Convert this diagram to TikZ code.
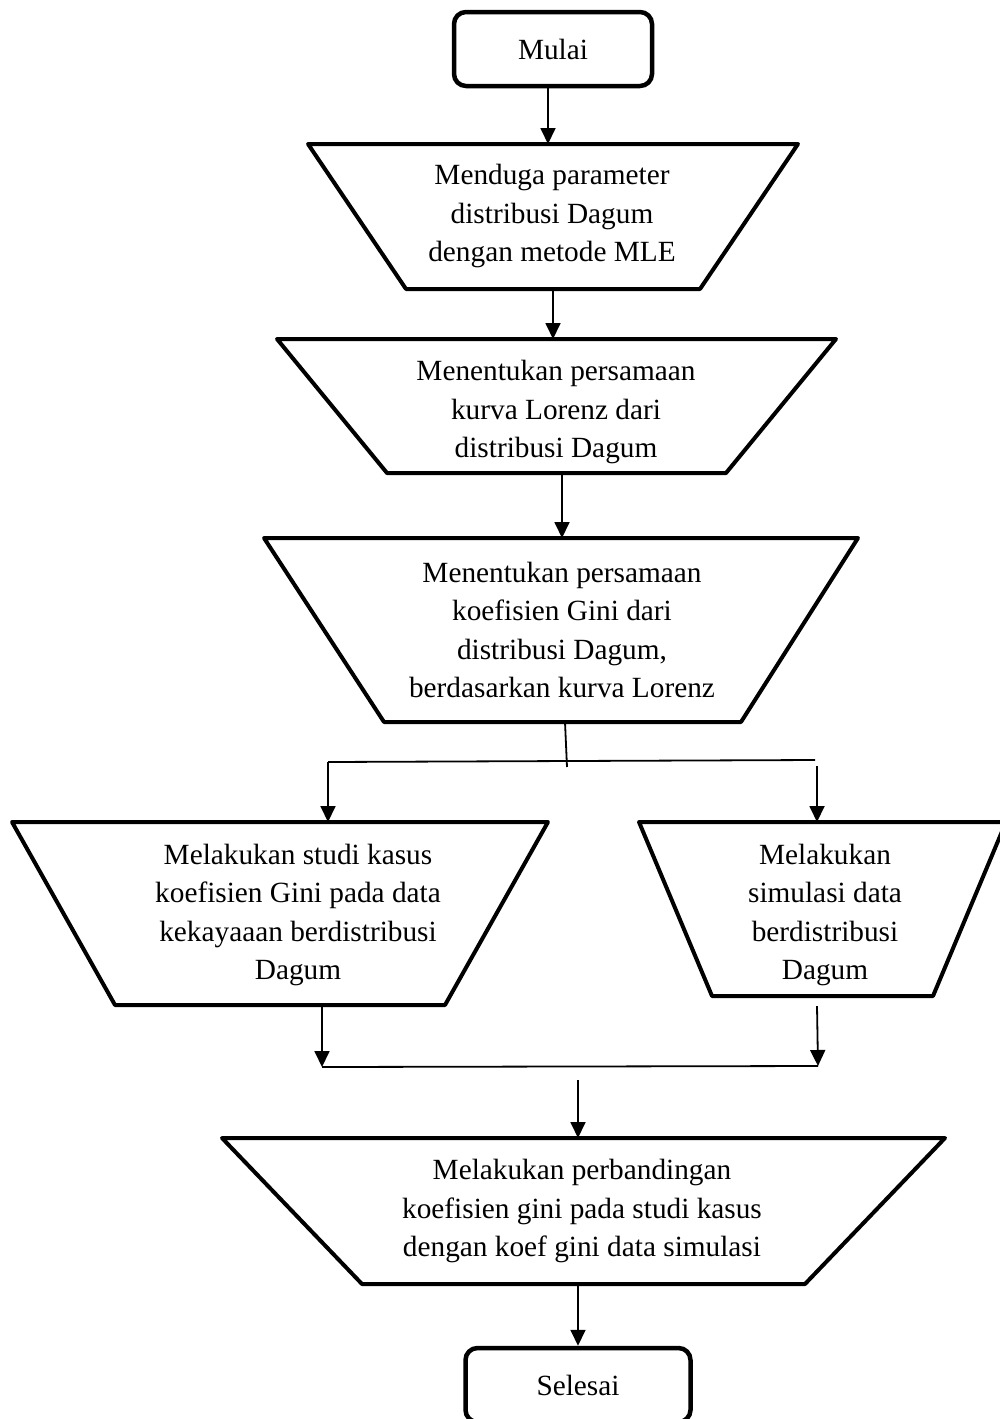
\documentclass[tikz,border=0pt]{standalone}
\usepackage{fontspec}
\setmainfont{Liberation Serif}
\usetikzlibrary{arrows.meta}
\begin{document}
\begin{tikzpicture}[x=1pt,y=-1pt,
  trapbox/.style={draw, line width=4pt, line join=round},
  term/.style={draw, line width=4.5pt, rounded corners=12pt, inner sep=0pt},
  lbl/.style={align=center, font=\fontsize{29.3}{38.5}\selectfont, inner sep=0pt},
  conn/.style={line width=1.8pt},
  arr/.style={conn, -{Triangle[width=15pt,length=16pt]}}]
\useasboundingbox (0,0) rectangle (1000,1419);

% start
\node[term, minimum width=198pt, minimum height=74pt, font=\fontsize{29.3}{32}\selectfont] (start) at (553,49) {Mulai};

% trap 1
\draw[trapbox] (308,144) -- (798,144) -- (700,289) -- (406,289) -- cycle;
\node[lbl] (t1) at (552,216) {Menduga parameter\\distribusi Dagum\\dengan metode MLE};
\coordinate (t1n) at (548,144);
\coordinate (t1s) at (553,289);

% trap 2
\draw[trapbox] (277,339) -- (836,339) -- (726,473) -- (387,473) -- cycle;
\node[lbl] (t2) at (556,412) {Menentukan persamaan\\kurva Lorenz dari\\distribusi Dagum};
\coordinate (t2n) at (553,339);
\coordinate (t2s) at (562,473);

% trap 3
\draw[trapbox] (264,538) -- (858,538) -- (741,722) -- (384,722) -- cycle;
\node[lbl] (t3) at (562,630) {Menentukan persamaan\\koefisien Gini dari\\distribusi Dagum,\\berdasarkan kurva Lorenz};
\coordinate (t3n) at (562,538);
\coordinate (t3s) at (565,722);

% split
\coordinate (j1) at (567,767);
\coordinate (hl) at (328,762);
\coordinate (hr) at (815,760);
\coordinate (hr2) at (817,766);

% trap 4
\draw[trapbox] (12,822) -- (548,822) -- (445,1005) -- (115,1005) -- cycle;
\node[lbl] (t4) at (298,915) {Melakukan studi kasus\\koefisien Gini pada data\\kekayaaan berdistribusi\\Dagum};
\coordinate (t4n) at (328,822);
\coordinate (t4s) at (322,1005);

% trap 5
\draw[trapbox] (639,822) -- (1006,822) -- (933,996) -- (712,996) -- cycle;
\node[lbl] (t5) at (825,915) {Melakukan\\simulasi data\\berdistribusi\\Dagum};
\coordinate (t5n) at (817,822);
\coordinate (t5s) at (817,1006);

% merge
\coordinate (ml) at (322,1067);
\coordinate (mr) at (818,1066);
\coordinate (m2) at (578,1080);

% trap 6
\draw[trapbox] (222,1138) -- (945,1138) -- (805,1284) -- (362,1284) -- cycle;
\node[lbl] (t6) at (582,1211) {Melakukan perbandingan\\koefisien gini pada studi kasus\\dengan koef gini data simulasi};
\coordinate (t6n) at (578,1138);
\coordinate (t6s) at (578,1285);

% end
\node[term, minimum width=225pt, minimum height=74pt, font=\fontsize{29.3}{32}\selectfont] (end) at (578,1385) {Selesai};

% connectors
\draw[arr] (start.south -| t1n) -- (t1n);
\draw[arr] (t1s) -- (t2n);
\draw[arr] (t2s) -- (t3n);
\draw[conn] (t3s) -- (j1);
\draw[conn] (hl) -- (hr);
\draw[arr] (hl) -- (t4n);
\draw[arr] (hr2) -- (t5n);
\draw[arr] (t4s) -- (ml);
\draw[arr] (t5s) -- (mr);
\draw[conn] (ml) -- (mr);
\draw[arr] (m2) -- (t6n);
\draw[arr] (t6s) -- (end.north -| t6s);
\end{tikzpicture}
\end{document}
